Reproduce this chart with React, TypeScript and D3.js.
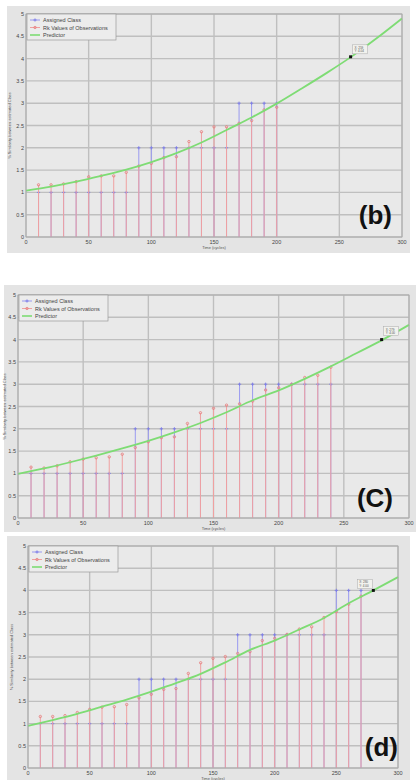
import React from 'react';
import * as d3 from 'd3';

// shared axis setup
const xTicks = [0, 50, 100, 150, 200, 250, 300];
const yTicks = [0, 0.5, 1, 1.5, 2, 2.5, 3, 3.5, 4, 4.5, 5];
const legendLabels = ['Assigned Class', 'Rk Values of Observations', 'Predictor'];
const xAxisTitle = 'Time (cycles)';
const yAxisTitle = '% Similarity between estimated Class';

// predictor curve sample points (cycles)
const predCycles = [0, 20, 40, 60, 80, 100, 120, 140, 160, 180, 200, 220, 240, 260, 280, 300];

// (b)
const cyclesB = [10, 20, 30, 40, 50, 60, 70, 80, 90, 100, 110, 120, 130, 140, 150, 160, 170, 180, 190, 200];
const classB = [1, 1, 1, 1, 1, 1, 1, 1, 2, 2, 2, 2, 2, 2, 2, 2, 3, 3, 3, 3];
const obsB = [1.17, 1.17, 1.19, 1.24, 1.35, 1.37, 1.37, 1.45, 1.59, 1.65, 1.78, 1.8, 2.14, 2.36, 2.47, 2.47, 2.55, 2.61, 2.85, 2.91];
const predB = [1.04, 1.13, 1.24, 1.37, 1.51, 1.68, 1.88, 2.12, 2.4, 2.68, 2.99, 3.33, 3.68, 4.05, 4.46, 4.9];
const tipB = [259, 4.04];

// (c)
const cyclesC = [10, 20, 30, 40, 50, 60, 70, 80, 90, 100, 110, 120, 130, 140, 150, 160, 170, 180, 190, 200, 210, 220, 230, 240];
const classC = [1, 1, 1, 1, 1, 1, 1, 1, 2, 2, 2, 2, 2, 2, 2, 2, 3, 3, 3, 3, 3, 3, 3, 3];
const obsC = [1.14, 1.12, 1.17, 1.26, 1.32, 1.35, 1.37, 1.43, 1.58, 1.71, 1.8, 1.82, 2.12, 2.36, 2.46, 2.53, 2.56, 2.62, 2.87, 2.92, 3.0, 3.15, 3.2, 3.38];
const predC = [0.99, 1.11, 1.25, 1.4, 1.56, 1.73, 1.92, 2.13, 2.37, 2.64, 2.86, 3.12, 3.4, 3.7, 4.0, 4.33];
const tipC = [279, 4.0];

// (d)
const cyclesD = [10, 20, 30, 40, 50, 60, 70, 80, 90, 100, 110, 120, 130, 140, 150, 160, 170, 180, 190, 200, 210, 220, 230, 240, 250, 260, 270];
const classD = [1, 1, 1, 1, 1, 1, 1, 1, 2, 2, 2, 2, 2, 2, 2, 2, 3, 3, 3, 3, 3, 3, 3, 3, 4, 4, 4];
const obsD = [1.16, 1.16, 1.18, 1.25, 1.32, 1.37, 1.38, 1.43, 1.58, 1.66, 1.77, 1.79, 2.13, 2.37, 2.47, 2.51, 2.58, 2.62, 2.87, 2.92, 3.01, 3.13, 3.18, 3.39, 3.52, 3.69, 3.87];
const predD = [0.95, 1.08, 1.22, 1.38, 1.54, 1.72, 1.91, 2.12, 2.38, 2.66, 2.87, 3.12, 3.38, 3.71, 4.0, 4.3];
const tipD = [280, 4.0];

const FONT = '"Liberation Sans", Arial, sans-serif';
const BLUE = '#9a9af0';
const RED = '#f0a0a0';
const GREEN = '#7edc74';

type Box = { x0: number; y0: number; x1: number; y1: number };

type PanelProps = {
  frame: Box;
  plot: Box;
  cycles: number[];
  cls: number[];
  obs: number[];
  pred: number[];
  tip: number[];
  tipOffset: [number, number];
  tag: string;
  tagPos: [number, number];
  ylabelX: number;
};

function Panel({ frame, plot, cycles, cls, obs, pred, tip, tipOffset, tag, tagPos, ylabelX }: PanelProps) {
  const x = d3.scaleLinear().domain([0, 300]).range([plot.x0, plot.x1]);
  const y = d3.scaleLinear().domain([0, 5]).range([plot.y1, plot.y0]);
  const line = d3
    .line<number>()
    .x((_, i) => x(predCycles[i]))
    .y((d) => y(d))
    .curve(d3.curveMonotoneX);

  const legX = plot.x0 + 1;
  const legY = plot.y0;
  const tx = x(tip[0]);
  const ty = y(tip[1]);

  return (
    <g>
      <rect x={frame.x0} y={frame.y0} width={frame.x1 - frame.x0} height={frame.y1 - frame.y0} fill="#e4e4e4" />
      <rect x={plot.x0} y={plot.y0} width={plot.x1 - plot.x0} height={plot.y1 - plot.y0} fill="#e9e9e9" />

      {/* grid */}
      {xTicks.map((t) => (
        <line key={'gx' + t} x1={x(t)} x2={x(t)} y1={plot.y0} y2={plot.y1} stroke="#bfbfbf" strokeWidth={1.4} />
      ))}
      {yTicks.map((t) => (
        <line key={'gy' + t} x1={plot.x0} x2={plot.x1} y1={y(t)} y2={y(t)} stroke="#bfbfbf" strokeWidth={1.4} />
      ))}

      {/* assigned class stems */}
      {cycles.map((c, i) => (
        <g key={'b' + c}>
          <line x1={x(c)} x2={x(c)} y1={y(0)} y2={y(cls[i])} stroke={BLUE} strokeWidth={1} />
          <path
            d={`M${x(c) - 1.6},${y(cls[i])}h3.2M${x(c)},${y(cls[i]) - 1.6}v3.2`}
            stroke="#7a7ae8"
            strokeWidth={0.9}
          />
        </g>
      ))}

      {/* observation stems */}
      {cycles.map((c, i) => (
        <g key={'r' + c}>
          <line x1={x(c)} x2={x(c)} y1={y(0)} y2={y(obs[i])} stroke={RED} strokeWidth={1} />
          <circle cx={x(c)} cy={y(obs[i])} r={1.2} fill="none" stroke="#e67a7a" strokeWidth={0.8} />
        </g>
      ))}

      {/* predictor */}
      <path d={line(pred) ?? ''} fill="none" stroke={GREEN} strokeWidth={1.8} />

      {/* data tip */}
      <rect x={tx - 1.5} y={ty - 1.5} width={3} height={3} fill="#111" />
      <rect
        x={tx + tipOffset[0]}
        y={ty + tipOffset[1]}
        width={15}
        height={9}
        fill="#f2f2ee"
        stroke="#aaa"
        strokeWidth={0.5}
      />
      <text x={tx + tipOffset[0] + 2} y={ty + tipOffset[1] + 4} fontSize={3} fontFamily={FONT} fill="#555">
        {'X: ' + tip[0]}
      </text>
      <text x={tx + tipOffset[0] + 2} y={ty + tipOffset[1] + 7.5} fontSize={3} fontFamily={FONT} fill="#555">
        {'Y: ' + tip[1].toFixed(2)}
      </text>

      <rect
        x={plot.x0}
        y={plot.y0}
        width={plot.x1 - plot.x0}
        height={plot.y1 - plot.y0}
        fill="none"
        stroke="#a8a8a8"
        strokeWidth={0.8}
      />

      {/* tick labels */}
      {xTicks.map((t) => (
        <text
          key={'tx' + t}
          x={x(t)}
          y={plot.y1 + 7}
          fontSize={5.5}
          fontFamily={FONT}
          fill="#444"
          textAnchor="middle"
        >
          {t}
        </text>
      ))}
      {yTicks.map((t) => (
        <text
          key={'ty' + t}
          x={plot.x0 - 2}
          y={y(t) + 2}
          fontSize={5.5}
          fontFamily={FONT}
          fill="#444"
          textAnchor="end"
        >
          {t}
        </text>
      ))}
      <text
        x={(plot.x0 + plot.x1) / 2}
        y={plot.y1 + 12}
        fontSize={4}
        fontFamily={FONT}
        fill="#555"
        textAnchor="middle"
      >
        {xAxisTitle}
      </text>
      <text
        transform={`translate(${ylabelX},${(plot.y0 + plot.y1) / 2}) rotate(-90)`}
        fontSize={4}
        fontFamily={FONT}
        fill="#555"
        textAnchor="middle"
      >
        {yAxisTitle}
      </text>

      {/* legend */}
      <rect x={legX} y={legY} width={89} height={26} fill="#ececec" stroke="#9a9a9a" strokeWidth={0.7} />
      {legendLabels.map((lab, i) => {
        const ly = legY + 6 + i * 7.5;
        const col = [BLUE, RED, GREEN][i];
        return (
          <g key={lab}>
            <line x1={legX + 3} x2={legX + 13} y1={ly} y2={ly} stroke={col} strokeWidth={i === 2 ? 1.6 : 1} />
            {i === 0 && <path d={`M${legX + 6.4},${ly}h3.2M${legX + 8},${ly - 1.6}v3.2`} stroke="#7a7ae8" strokeWidth={0.9} />}
            {i === 1 && <circle cx={legX + 8} cy={ly} r={1.2} fill="none" stroke="#e67a7a" strokeWidth={0.8} />}
            <text x={legX + 16} y={ly + 2} fontSize={5.5} fontFamily={FONT} fill="#444">
              {lab}
            </text>
          </g>
        );
      })}

      <text
        x={tagPos[0]}
        y={tagPos[1]}
        fontSize={26}
        fontWeight="bold"
        fontFamily={FONT}
        fill="#111"
        textAnchor="end"
      >
        {tag}
      </text>
    </g>
  );
}

export default function App() {
  return (
    <svg
      width={416}
      height={780}
      viewBox="0 0 416 780"
      style={{ position: 'absolute', left: 0, top: 0, background: '#fff' }}
    >
      <Panel
        frame={{ x0: 7, y0: 6, x1: 410, y1: 253 }}
        plot={{ x0: 26, y0: 14, x1: 402, y1: 237 }}
        cycles={cyclesB}
        cls={classB}
        obs={obsB}
        pred={predB}
        tip={tipB}
        tipOffset={[2, -12]}
        tag="(b)"
        tagPos={[392, 224]}
        ylabelX={11}
      />
      <Panel
        frame={{ x0: 4, y0: 285, x1: 416, y1: 532 }}
        plot={{ x0: 18, y0: 295, x1: 409, y1: 518 }}
        cycles={cyclesC}
        cls={classC}
        obs={obsC}
        pred={predC}
        tip={tipC}
        tipOffset={[2, -13]}
        tag="(C)"
        tagPos={[393, 507]}
        ylabelX={6}
      />
      <Panel
        frame={{ x0: 7, y0: 536, x1: 410, y1: 780 }}
        plot={{ x0: 28, y0: 546, x1: 398, y1: 768 }}
        cycles={cyclesD}
        cls={classD}
        obs={obsD}
        pred={predD}
        tip={tipD}
        tipOffset={[-16, -11]}
        tag="(d)"
        tagPos={[398, 756]}
        ylabelX={13}
      />
    </svg>
  );
}
